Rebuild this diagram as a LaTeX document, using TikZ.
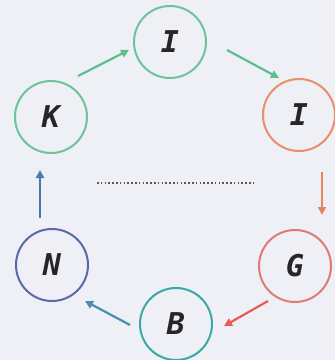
\documentclass[tikz,border=0pt]{standalone}
\usepackage{fontspec}
\newfontfamily\letterfont{DejaVu Sans Mono}
\usetikzlibrary{arrows.meta}
\definecolor{bg}{HTML}{EEF0F5}
\definecolor{cgreen}{HTML}{6CC49A}
\definecolor{corange}{HTML}{E8906A}
\definecolor{cred}{HTML}{E07A7A}
\definecolor{cteal}{HTML}{3AA8A8}
\definecolor{cblue}{HTML}{5A6AA8}
\definecolor{agreen}{HTML}{5DBE8E}
\definecolor{aorange}{HTML}{E8845A}
\definecolor{ared}{HTML}{E65A58}
\definecolor{ateal}{HTML}{4A8EB0}
\definecolor{ablue}{HTML}{4A78AC}
\tikzset{
  letter/.style={circle, draw=#1, line width=2pt, minimum size=72pt, inner sep=0pt,
    font=\letterfont\bfseries\itshape\fontsize{30}{30}\selectfont, text=black!85},
  flow/.style={draw=#1, line width=2.2pt, -{Triangle[length=8pt,width=8pt]}}
}
\begin{document}
\begin{tikzpicture}[x=1pt,y=-1pt]
\fill[bg] (0,0) rectangle (335,360);
\useasboundingbox (0,0) rectangle (335,360);
\node[letter=cgreen] (i1) at (170,42) {I};
\node[letter=cgreen] (k) at (51,117) {K};
\node[letter=corange] (i2) at (299,115) {I};
\node[letter=cred] (g) at (295,266) {G};
\node[letter=cteal] (b) at (176,324) {B};
\node[letter=cblue] (n) at (52,265) {N};
\coordinate (d1) at (97,183);
\coordinate (d2) at (256,183);
\draw[black!65, line width=1.6pt, dash pattern=on 1.6pt off 2.2pt] (d1) -- (d2);
\coordinate (a1s) at (78,76); \coordinate (a1e) at (129,50);
\coordinate (a2s) at (227,50); \coordinate (a2e) at (279,78);
\coordinate (a3s) at (322,172); \coordinate (a3e) at (322,215);
\coordinate (a4s) at (268,301); \coordinate (a4e) at (224,326);
\coordinate (a5s) at (130,325); \coordinate (a5e) at (85,301);
\coordinate (a6s) at (40,218); \coordinate (a6e) at (40,170);
\draw[flow=agreen] (a1s) -- (a1e);
\draw[flow=agreen] (a2s) -- (a2e);
\draw[flow=aorange] (a3s) -- (a3e);
\draw[flow=ared] (a4s) -- (a4e);
\draw[flow=ateal] (a5s) -- (a5e);
\draw[flow=ablue] (a6s) -- (a6e);
\end{tikzpicture}
\end{document}
